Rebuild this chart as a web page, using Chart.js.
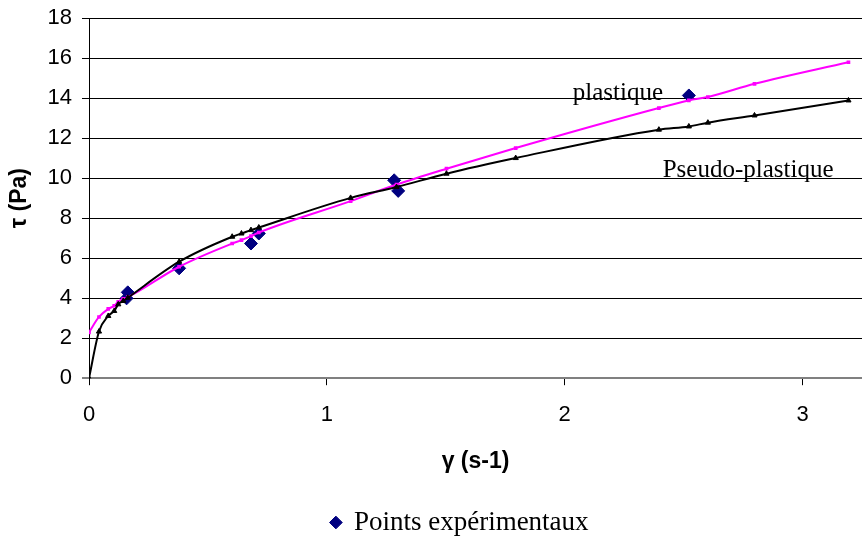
<!DOCTYPE html>
<html>
<head>
<meta charset="utf-8">
<script src="https://cdn.jsdelivr.net/npm/chart.js@4"></script>
<style>
  html, body { margin: 0; padding: 0; background: #fff; }
  #box { width: 862px; height: 546px; }
</style>
</head>
<body>
<div id="box"><canvas id="graphe"></canvas></div>
<script>
// taux de cisaillement (s-1) commun aux deux modeles
const gammaModele = [0, 0.042, 0.081, 0.106, 0.123, 0.144, 0.163, 0.379, 0.602, 0.641, 0.681, 0.714, 1.1, 1.293, 1.503, 1.794, 2.396, 2.522, 2.602, 2.798, 3.193];
const tauPseudo = [0, 2.33, 3.11, 3.36, 3.69, 3.86, 4.02, 5.82, 7.07, 7.23, 7.40, 7.53, 9.01, 9.55, 10.22, 11.0, 12.42, 12.58, 12.77, 13.13, 13.88];
const tauPlastique = [2.29, 3.06, 3.46, 3.62, 3.82, 3.96, 4.05, 5.57, 6.73, 6.90, 7.10, 7.28, 8.85, 9.68, 10.47, 11.5, 13.5, 13.88, 14.05, 14.71, 15.79];

// points experimentaux
const gammaExp = [0.158, 0.163, 0.379, 0.681, 0.714, 1.283, 1.3, 2.522];
const tauExp = [3.99, 4.29, 5.49, 6.73, 7.23, 9.89, 9.36, 14.13];

const yTicks = [0, 2, 4, 6, 8, 10, 12, 14, 16, 18];
const xTicks = [0, 1, 2, 3];

// etiquettes des courbes (position en unites du graphe)
const etiquettes = [
  { texte: 'plastique', x: 2.034, y: 13.92 },
  { texte: 'Pseudo-plastique', x: 2.412, y: 10.07 }
];

const pts = (xs, ys) => xs.map((x, i) => ({ x: x, y: ys[i] }));

const etiquettesPlugin = {
  id: 'etiquettes',
  afterLayout(chart) {
    // decale la legende vers la droite comme sur l'original
    chart.legend.left += 29;
    chart.legend.right += 29;
  },
  afterDatasetsDraw(chart) {
    const { ctx, scales } = chart;
    ctx.save();
    ctx.font = '25px "Liberation Serif", "Times New Roman", serif';
    ctx.fillStyle = '#000';
    ctx.textBaseline = 'alphabetic';
    etiquettes.forEach(e => {
      ctx.fillText(e.texte, scales.x.getPixelForValue(e.x), scales.y.getPixelForValue(e.y));
    });
    ctx.restore();
  }
};

const tickFont = { family: '"Liberation Sans", Arial, sans-serif', size: 22 };
const titreFont = { family: '"Liberation Sans", Arial, sans-serif', size: 23, weight: 'bold' };

new Chart(document.getElementById('graphe').getContext('2d'), {
  type: 'scatter',
  data: {
    datasets: [
      {
        label: 'Pseudo-plastique',
        data: pts(gammaModele, tauPseudo),
        showLine: true,
        borderColor: '#000000',
        backgroundColor: '#000000',
        borderWidth: 2,
        pointStyle: 'triangle',
        pointRadius: 3,
        pointBorderWidth: 1,
        cubicInterpolationMode: 'monotone'
      },
      {
        label: 'plastique',
        data: pts(gammaModele, tauPlastique),
        showLine: true,
        borderColor: '#FF00FF',
        backgroundColor: '#FF00FF',
        borderWidth: 2,
        pointStyle: 'rect',
        pointRadius: 2.6,
        pointBorderWidth: 0,
        cubicInterpolationMode: 'monotone'
      },
      {
        label: 'Points expérimentaux',
        data: pts(gammaExp, tauExp),
        showLine: false,
        borderColor: '#000080',
        backgroundColor: '#000080',
        pointStyle: 'rectRot',
        pointRadius: 6.5,
        pointBorderWidth: 1
      }
    ]
  },
  options: {
    responsive: true,
    maintainAspectRatio: false,
    animation: false,
    layout: { autoPadding: false, padding: { top: 18, right: 0, bottom: 0, left: 0 } },
    scales: {
      x: {
        type: 'linear',
        min: 0,
        max: 3.25,
        afterFit: s => { s.height = 128; s.paddingLeft = 0; s.paddingRight = 0; },
        afterBuildTicks: s => { s.ticks = xTicks.map(v => ({ value: v })); },
        ticks: { font: tickFont, color: '#000', padding: 17, includeBounds: false },
        grid: { drawOnChartArea: false, drawTicks: true, tickLength: 7, color: '#000' },
        border: { color: '#808080', width: 2 },
        title: {
          display: true,
          text: 'γ (s-1)',
          color: '#000',
          font: titreFont,
          padding: { top: 0, bottom: 31 }
        }
      },
      y: {
        min: 0,
        max: 18,
        afterFit: s => { s.width = 89; s.paddingTop = 0; s.paddingBottom = 0; },
        afterBuildTicks: s => { s.ticks = yTicks.map(v => ({ value: v })); },
        ticks: { font: tickFont, color: '#000', padding: 10 },
        grid: {
          tickLength: 7,
          color: c => (c.tick && c.tick.value === 0 ? '#808080' : '#000'),
          lineWidth: c => (c.tick && c.tick.value === 0 ? 2 : 1)
        },
        border: { color: '#000', width: 1 },
        title: {
          display: true,
          text: 'τ (Pa)',
          color: '#000',
          font: titreFont,
          padding: { top: 6, bottom: 0 }
        }
      }
    },
    plugins: {
      legend: {
        position: 'bottom',
        labels: {
          filter: item => item.text === 'Points expérimentaux',
          usePointStyle: true,
          pointStyle: 'rectRot',
          boxWidth: 9,
          boxHeight: 9,
          padding: 2.8,
          color: '#000',
          font: { family: '"Liberation Serif", "Times New Roman", serif', size: 27 }
        }
      },
      tooltip: { enabled: false }
    }
  },
  plugins: [etiquettesPlugin]
});
</script>
</body>
</html>
